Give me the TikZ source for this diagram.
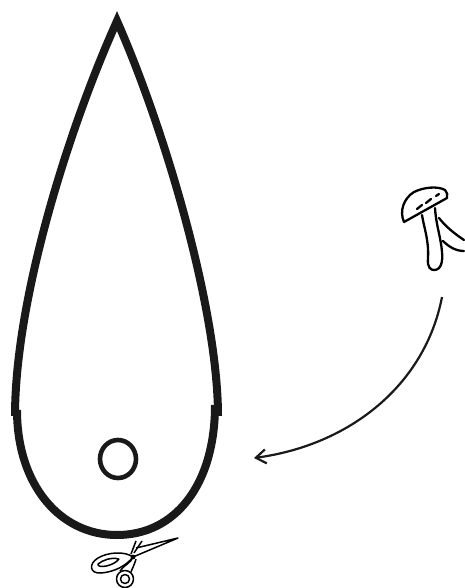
\documentclass[tikz,border=0pt]{standalone}
\usepackage{tikz}
\usetikzlibrary{arrows.meta}
\tikzset{
  dropline/.style={line width=8pt, draw=black!90},
  sketchline/.style={line width=2.3pt, draw=black, line cap=round, line join=round},
  snipline/.style={line width=1.5pt, draw=black, line join=round}
}

\begin{document}
\begin{tikzpicture}[x=1pt, y=-1pt]
        \useasboundingbox (0,0) rectangle (464,588);
        % drop outline
        \coordinate (tip) at (117,21);
        \coordinate (upperleft) at (15,416);
        \coordinate (upperright) at (218,416);
        \coordinate (lowerleft) at (17,410);
        \coordinate (lowerright) at (215,405);
        \draw[dropline, line join=miter, miter limit=10] (upperleft)
          .. controls (15,300) and (68,130) .. (tip)
          .. controls (165,130) and (218,310) .. (upperright);
        \draw[dropline] (lowerleft) .. controls (17,485) and (60,535) .. (117,535)
          .. controls (175,535) and (215,485) .. (lowerright);
        \draw[line width=4.6pt, draw=black!90] (118,459) ellipse (18 and 19);
        % mushroom
        \coordinate (capleft) at (404,222);
        \coordinate (capright) at (447,198);
        \draw[sketchline] (capleft) .. controls (399,211) and (404,198) .. (414,192)
          .. controls (424,187) and (438,186) .. (445,190)
          .. controls (447,192) and (448,195) .. (capright) -- cycle;
        \draw[sketchline] (417,209) -- (422,205);
        \draw[sketchline] (426,203) -- (431,199);
        \draw[sketchline] (436,196) -- (439,194);
        \draw[sketchline] (422,215) .. controls (424,228) and (429,240) .. (428,258)
          .. controls (427,268) and (431,270) .. (434,270)
          .. controls (441,270) and (443,262) .. (442,252)
          .. controls (441,238) and (436,225) .. (435,208);
        \draw[sketchline] (439,218) .. controls (446,227) and (455,234) .. (464,240);
        \draw[sketchline] (443,241) .. controls (449,247) and (456,251) .. (464,251);
        % arrow
        \coordinate (stemend) at (442,297);
        \coordinate (dropside) at (254,458);
        \draw[line width=2.2pt, draw=black!90, -{Straight Barb[length=10pt, width=23pt, angle'=70]}] (stemend)
          .. controls (425,385) and (350,445) .. (dropside);
        % scissors
        \coordinate (pivot) at (133,557);
        \coordinate (bladetip) at (178,538);
        \draw[snipline] (pivot) -- (bladetip) -- (136,548);
        \draw[snipline] (131,554) -- (136,541) (134,553) -- (142,541);
        \draw[snipline] (pivot) .. controls (125,551) and (108,552) .. (98,558)
          .. controls (88,564) and (90,574) .. (101,573)
          .. controls (114,572) and (126,566) .. (pivot);
        \draw[snipline] (119,559) .. controls (111,557) and (103,560) .. (98,564)
          .. controls (97,569) and (114,566) .. (119,559);
        \draw[snipline] (pivot) .. controls (132,562) and (123,566) .. (120,571);
        \draw[snipline] (136,559) .. controls (134,566) and (132,569) .. (131,572);
        \draw[snipline] (125,579) circle (8.5);
        \draw[snipline] (125,579) circle (4.5);
        \fill (pivot) circle (2.4);
      \end{tikzpicture}
\end{document}
